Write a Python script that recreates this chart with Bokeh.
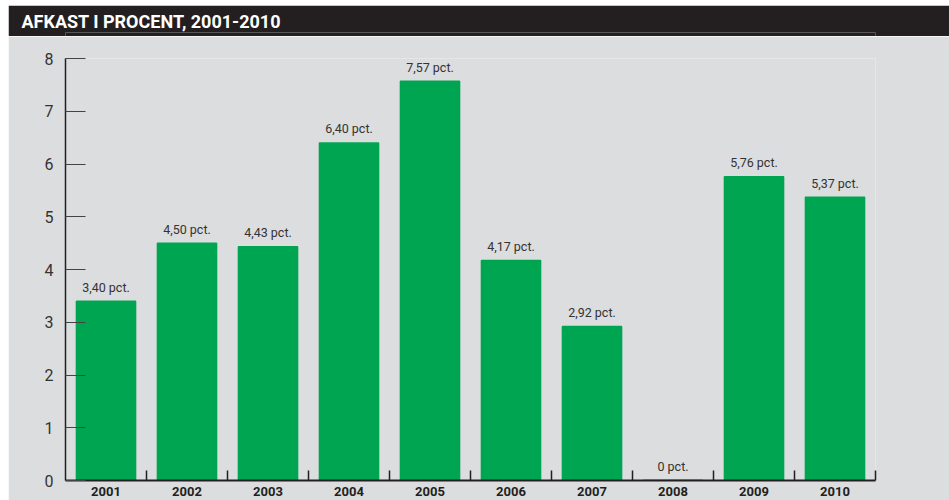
from bokeh.plotting import figure
from bokeh.layouts import column, row
from bokeh.models import Range1d, FixedTicker, ColumnDataSource, Spacer
from bokeh.core.properties import value
from bokeh.embed import file_html
from bokeh.resources import INLINE

title_text = "AFKAST I PROCENT, 2001-2010"
years = ["2001", "2002", "2003", "2004", "2005", "2006", "2007", "2008", "2009", "2010"]
returns = [3.40, 4.50, 4.43, 6.40, 7.57, 4.17, 2.92, 0.0, 5.76, 5.37]
value_labels = ["3,40 pct.", "4,50 pct.", "4,43 pct.", "6,40 pct.", "7,57 pct.",
                "4,17 pct.", "2,92 pct.", "0 pct.", "5,76 pct.", "5,37 pct."]
y_ticks = [0, 1, 2, 3, 4, 5, 6, 7, 8]

GRAY = "#dcdddf"
BLACK = "#231f20"
GREEN = "#00a551"
TEXT = "#333333"
W = 941
BL, BR = 57, 74

# --- title bar (same side borders as the chart so the frames line up) ---
t = figure(width=W, height=31, x_range=Range1d(0, 1), y_range=Range1d(0, 1),
           x_axis_type=None, y_axis_type=None, toolbar_location=None,
           output_backend="svg", title=title_text,
           min_border_left=BL, min_border_right=BR, min_border_top=27, min_border_bottom=0)
t.background_fill_color = BLACK
t.border_fill_color = BLACK
t.outline_line_color = None
t.grid.visible = False
t.title.text_color = "white"
t.title.text_font = "Roboto"
t.title.text_font_style = "bold"
t.title.text_font_size = "18px"
t.title.align = "left"
t.title.offset = 13 - BL
t.title.standoff = 0
t.title.vertical_align = "middle"

# --- chart ---
centers = [i + 0.5 for i in range(len(years))]
bounds = [i + 1 for i in range(len(years))]
outline = [BLACK if v == 0 else GREEN for v in returns]
src = ColumnDataSource(dict(x=centers, top=returns, label=value_labels, outline=outline))

p = figure(width=W, height=464, x_range=Range1d(0, len(years)), y_range=Range1d(0, 8),
           toolbar_location=None, output_backend="svg",
           min_border_left=BL, min_border_right=BR, min_border_top=22, min_border_bottom=20)
p.background_fill_color = GRAY
p.border_fill_color = GRAY
p.outline_line_color = None
p.grid.visible = False

p.vbar(x="x", top="top", width=0.73, bottom=0, source=src, fill_color=GREEN,
       line_color="outline", line_width=1.5)
p.text(x="x", y="top", text="label", source=src, text_align="center", text_baseline="alphabetic",
       y_offset=-14, text_font=value("Roboto"), text_font_size="12.5px", text_color=TEXT)

xa = p.xaxis[0]
xa.ticker = FixedTicker(ticks=centers, minor_ticks=bounds)
xa.major_label_overrides = {c: y for c, y in zip(centers, years)}
xa.major_tick_in = 0
xa.major_tick_out = 0
xa.minor_tick_in = 10
xa.minor_tick_out = 0
xa.minor_tick_line_color = BLACK
xa.minor_tick_line_width = 1.5
xa.axis_line_color = BLACK
xa.axis_line_width = 2
xa.major_label_text_font = "Roboto"
xa.major_label_text_font_style = "bold"
xa.major_label_text_font_size = "13px"
xa.major_label_text_color = BLACK
xa.major_label_standoff = 6

ya = p.yaxis[0]
ya.ticker = FixedTicker(ticks=y_ticks, minor_ticks=[])
ya.major_tick_in = 20
ya.major_tick_out = 0
ya.major_tick_line_color = "#444444"
ya.major_tick_line_width = 1.2
ya.axis_line_color = BLACK
ya.axis_line_width = 1.5
ya.major_label_text_font = "Roboto"
ya.major_label_text_font_size = "16px"
ya.major_label_text_color = TEXT
ya.major_label_standoff = 12

layout = row(Spacer(width=8, height=500),
             column(Spacer(width=W, height=5), t, p, spacing=0),
             spacing=0)
open("out.html", "w").write(file_html(layout, INLINE))
